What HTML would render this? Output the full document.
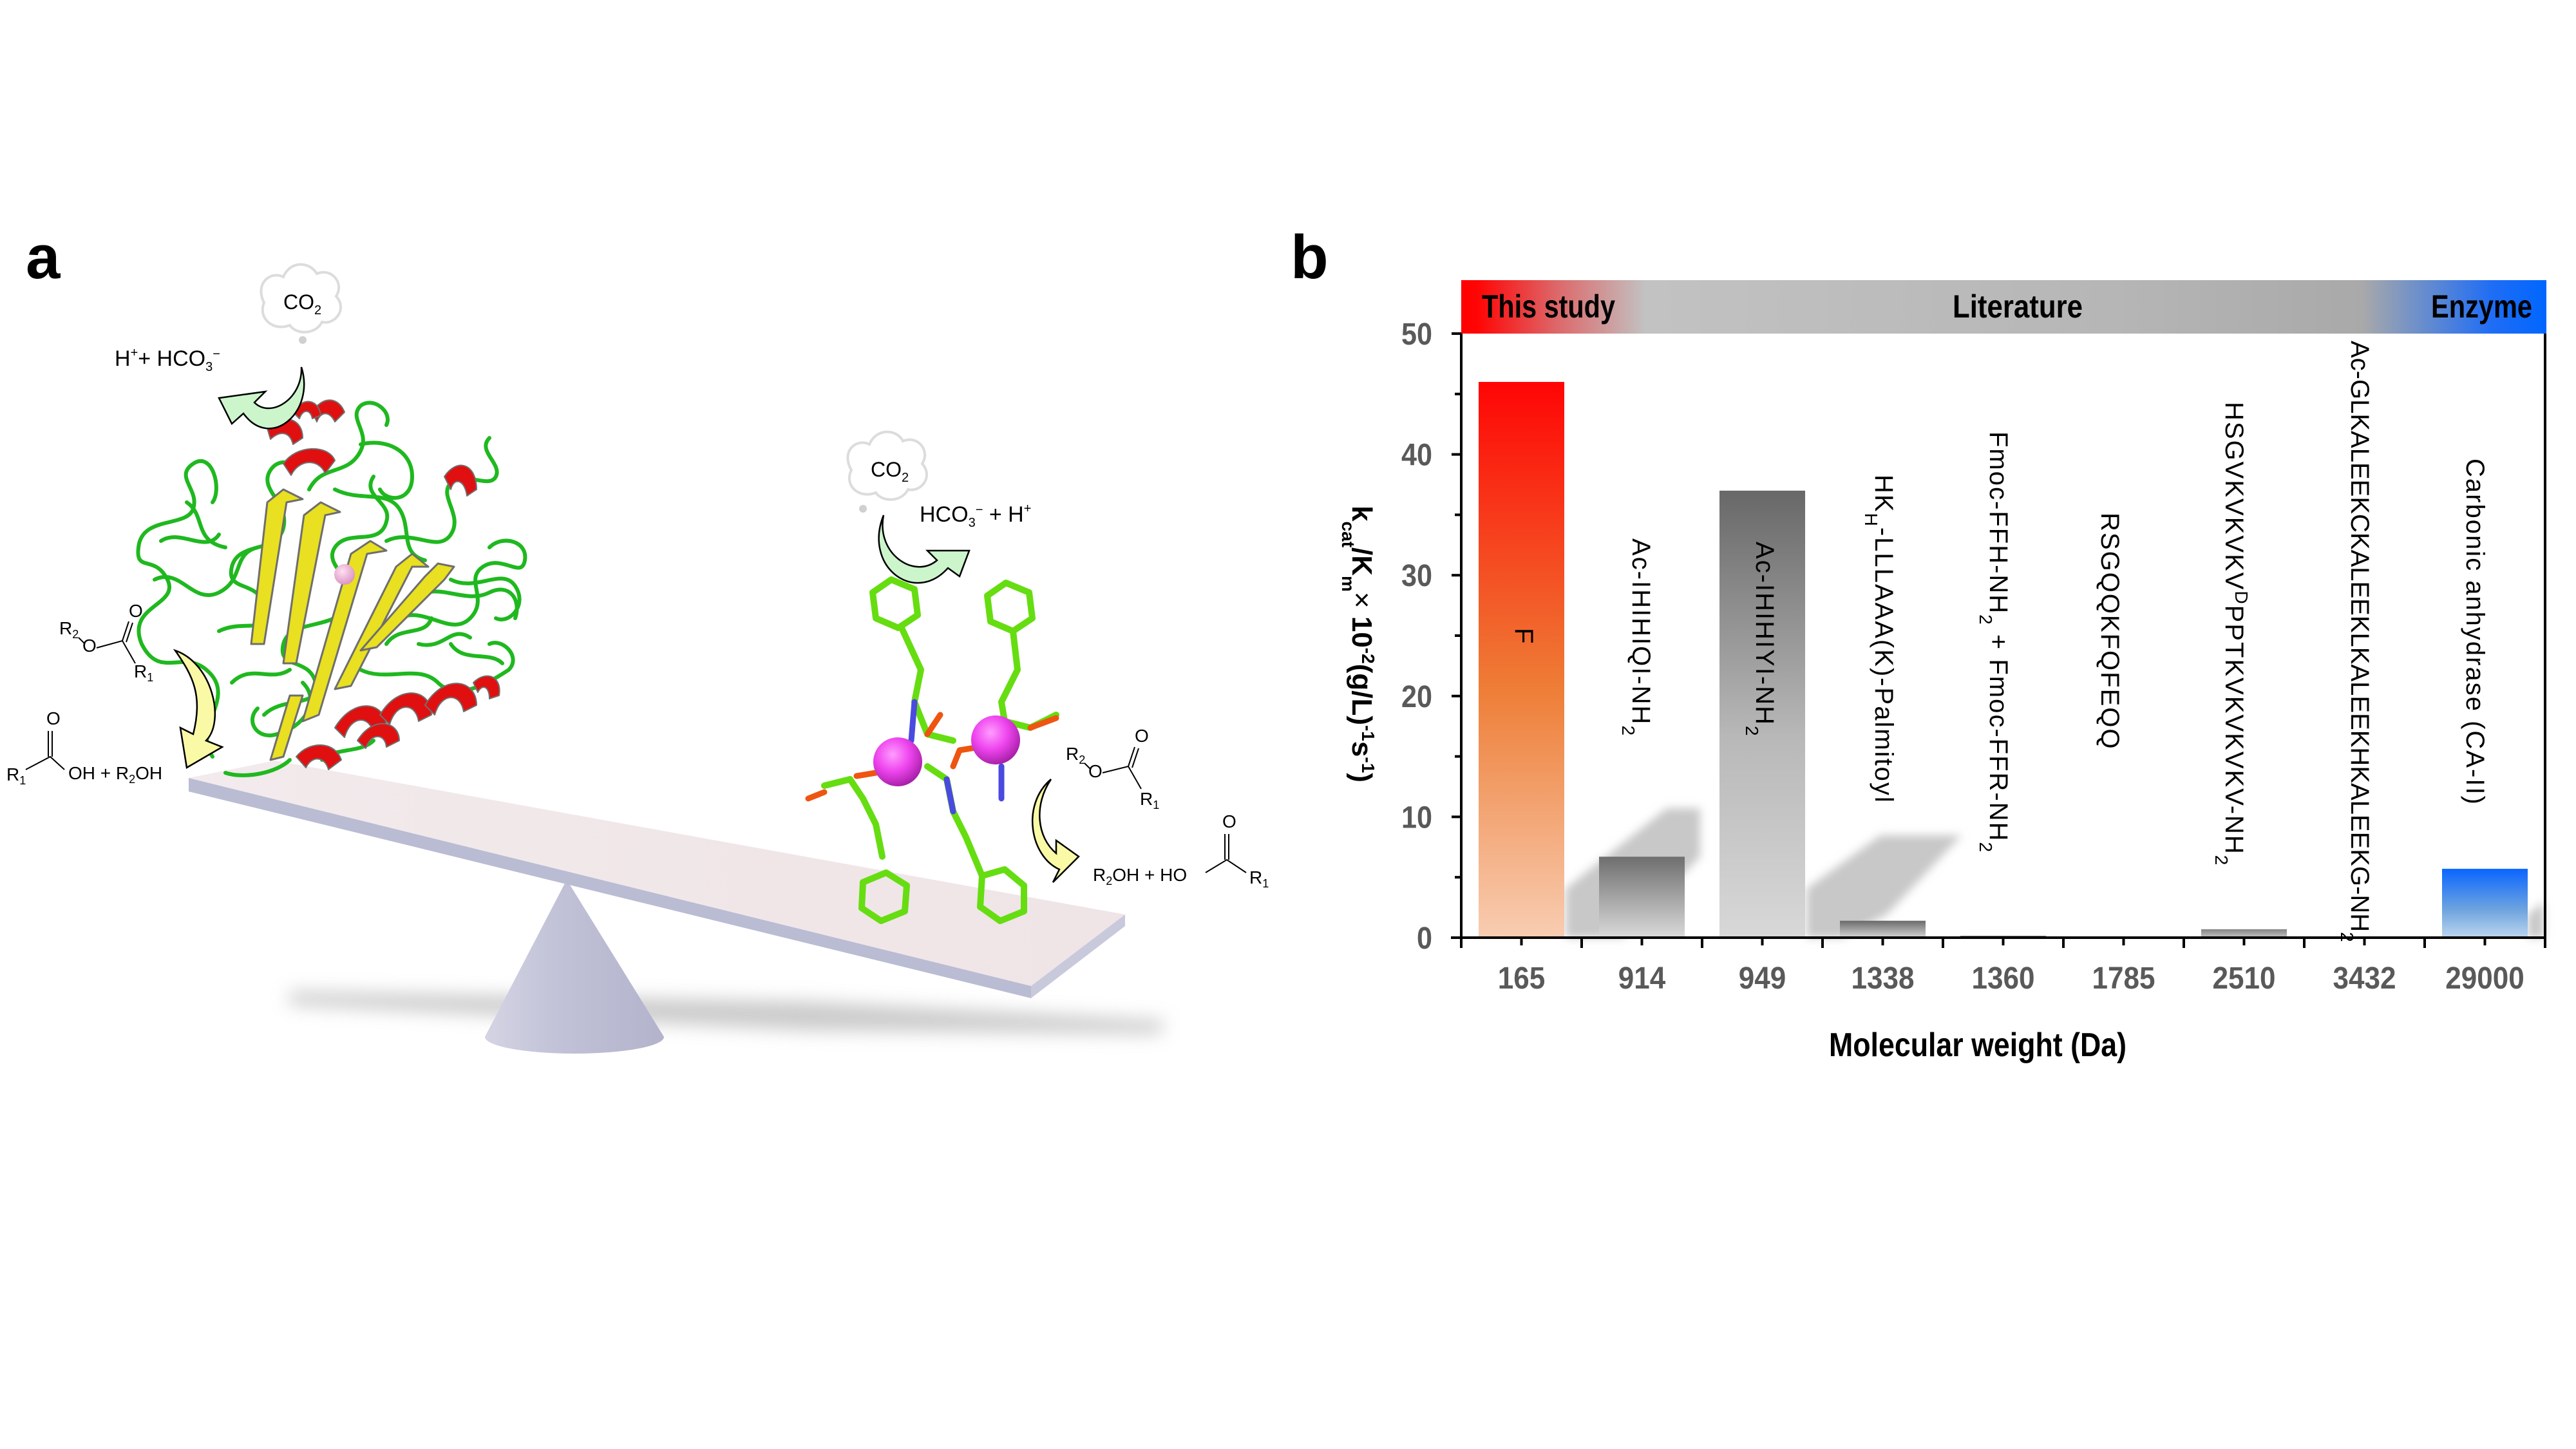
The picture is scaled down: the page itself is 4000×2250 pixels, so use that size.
<!DOCTYPE html>
<html><head><meta charset="utf-8"><style>
html,body{margin:0;padding:0;background:#fff;}
svg{display:block;}
</style></head><body>
<svg id="fig" width="4000" height="2250" viewBox="0 0 4000 2250" xmlns="http://www.w3.org/2000/svg">
<defs>
  <linearGradient id="gHeader" x1="0" y1="0" x2="1" y2="0">
    <stop offset="0" stop-color="#ff0000"/><stop offset="0.015" stop-color="#ff0505"/>
    <stop offset="0.09" stop-color="#dc6a6c"/><stop offset="0.17" stop-color="#c2c2c2"/>
    <stop offset="0.6" stop-color="#b6b6b6"/><stop offset="0.83" stop-color="#a9a9a9"/>
    <stop offset="0.95" stop-color="#1f6df5"/><stop offset="1" stop-color="#0066ff"/>
  </linearGradient>
  <linearGradient id="gF" x1="0" y1="0" x2="0" y2="1">
    <stop offset="0" stop-color="#ff0505"/><stop offset="0.55" stop-color="#ee7d36"/><stop offset="1" stop-color="#f8cdb2"/>
  </linearGradient>
  <linearGradient id="gG1" x1="0" y1="0" x2="0" y2="1"><stop offset="0" stop-color="#6e6e6e"/><stop offset="1" stop-color="#dadada"/></linearGradient>
  <linearGradient id="gG2" x1="0" y1="0" x2="0" y2="1"><stop offset="0" stop-color="#686868"/><stop offset="0.55" stop-color="#b8b8b8"/><stop offset="1" stop-color="#d8d8d8"/></linearGradient>
  <linearGradient id="gG3" x1="0" y1="0" x2="0" y2="1"><stop offset="0" stop-color="#6a6a6a"/><stop offset="1" stop-color="#d6d6d6"/></linearGradient>
  <linearGradient id="gG4" x1="0" y1="0" x2="0" y2="1"><stop offset="0" stop-color="#858585"/><stop offset="1" stop-color="#c4c4c4"/></linearGradient>
  <linearGradient id="gB" x1="0" y1="0" x2="0" y2="1"><stop offset="0" stop-color="#0a66ff"/><stop offset="0.6" stop-color="#6fa4df"/><stop offset="1" stop-color="#bcd6ef"/></linearGradient>
  <linearGradient id="gTop" x1="0" y1="0" x2="1" y2="0"><stop offset="0" stop-color="#f2eaec"/><stop offset="1" stop-color="#efe4e6"/></linearGradient>
  <linearGradient id="gCone" x1="0" y1="0" x2="1" y2="0"><stop offset="0" stop-color="#d4d4e4"/><stop offset="0.45" stop-color="#c0c0d6"/><stop offset="1" stop-color="#b3b3cc"/></linearGradient>
  <radialGradient id="gZn" cx="0.4" cy="0.35" r="0.7"><stop offset="0" stop-color="#ff9cff"/><stop offset="0.5" stop-color="#ee44ee"/><stop offset="1" stop-color="#a01ca0"/></radialGradient>
  <radialGradient id="gPink" cx="0.4" cy="0.35" r="0.7"><stop offset="0" stop-color="#ffe0f0"/><stop offset="1" stop-color="#d890c0"/></radialGradient>
  <filter id="blur" x="-20%" y="-50%" width="140%" height="200%"><feGaussianBlur stdDeviation="14"/></filter>
  <filter id="blur2" x="-20%" y="-50%" width="140%" height="200%"><feGaussianBlur stdDeviation="7"/></filter>
</defs>

<!-- ================= PANEL A ================= -->
<g id="panel-a">
  <text x="40" y="432" font-family="Liberation Sans, sans-serif" font-weight="bold" font-size="96" fill="#000">a</text>

  <g>
    <polygon points="450,1540 1250,1555 1810,1585 1800,1605 1250,1600 450,1560" fill="#bdbdbd" filter="url(#blur)" opacity="0.8"/>
  </g>
  <g>
    <path d="M880,1366 L1031,1610 A139,26 0 0 1 753,1610 Z" fill="url(#gCone)"/>
  </g>
  <g>
    <polygon points="293,1208 1601,1531 1601,1550 293,1229" fill="#b9bcd3"/>
    <polygon points="1601,1531 1747,1420 1747,1438 1601,1550" fill="#c9c9dc"/>
    <polygon points="427,1181 1747,1420 1601,1531 293,1208" fill="url(#gTop)"/>
  </g>

  <g stroke-linecap="round" stroke-linejoin="round">
    <g fill="none" stroke="#1fb81f" stroke-width="6">
      <path d="M330,1175 C300,1130 360,1090 330,1050 C290,1000 250,1060 220,1000 C195,940 280,940 260,900 C240,860 210,890 215,850 C220,800 290,820 300,790 C310,760 270,740 300,720 C330,700 345,760 330,780"/>
      <path d="M340,980 C380,960 420,990 410,940 C400,900 350,920 360,880 C370,840 430,860 440,820 C450,780 400,760 420,730 C440,700 470,740 480,700"/>
      <path d="M410,1110 C440,1080 500,1100 490,1060 C480,1020 430,1040 440,1000 C450,960 520,980 540,940 C560,900 500,880 520,850 C540,820 590,850 600,810 C610,780 560,770 580,740"/>
      <path d="M600,840 C640,820 680,860 700,830 C720,800 680,770 700,750 C720,730 760,760 770,740 C780,720 740,700 760,680"/>
      <path d="M620,960 C660,940 700,990 730,960 C760,930 720,900 750,880 C780,860 810,900 815,870 C820,840 780,830 760,850"/>
      <path d="M560,1040 C600,1060 650,1030 680,1060 C710,1090 760,1060 790,1040 C810,1020 780,990 760,1000"/>
      <path d="M350,1200 C380,1210 430,1200 450,1180 M470,1060 C500,1090 470,1130 430,1140 C400,1150 380,1120 400,1100"/>
      <path d="M480,760 C500,720 540,740 560,700 C575,670 540,650 560,630 C580,615 610,640 600,660"/>
      <path d="M560,690 C600,680 640,700 640,740 C640,780 600,780 590,760 M250,840 C280,820 320,860 340,830"/>
      <path d="M700,900 C740,920 780,880 800,910 C820,940 790,970 770,960 M650,1000 C690,1010 700,970 730,990"/>
      <path d="M240,900 C280,880 300,940 340,920 C380,900 360,860 400,850 M290,780 C320,800 300,840 350,850"/>
      <path d="M640,930 C680,900 720,940 760,920 C790,905 810,930 800,960 M600,1000 C620,970 660,990 670,960"/>
      <path d="M520,760 C560,780 600,760 620,790 C640,820 620,860 660,870 M360,1060 C390,1030 420,1060 450,1040"/>
      <path d="M500,1180 C520,1160 560,1170 580,1150 M700,1000 C720,1030 760,1010 780,1030"/>
    </g>
    <g stroke="#6e6e6e" stroke-width="3" fill="#e8e020">
      <polygon points="390,1000 410,1000 445,780 470,775 440,760 415,780"/>
      <polygon points="440,1030 460,1030 505,800 528,795 498,780 472,800"/>
      <polygon points="470,1120 495,1110 570,860 600,855 575,840 545,860"/>
      <polygon points="520,1070 545,1065 640,880 665,880 640,860 615,880"/>
      <polygon points="560,1010 585,1005 690,900 705,880 680,875 660,895"/>
      <polygon points="420,1180 440,1175 470,1080 450,1080"/>
    </g>
    <g fill="#e01010" stroke="#707070" stroke-width="2">
      <path d="M415,665 C440,640 470,650 470,680 L455,690 C450,670 435,668 420,682 Z"/>
      <path d="M440,720 C460,690 510,690 520,715 L505,735 C495,712 465,712 452,738 Z"/>
      <path d="M485,640 C500,615 525,615 535,640 L520,655 C512,638 498,638 492,655 Z"/>
      <path d="M690,740 C710,710 740,720 740,760 L725,770 C722,745 705,740 700,760 Z"/>
      <path d="M520,1130 C550,1080 600,1090 600,1130 L580,1140 C575,1110 545,1110 535,1145 Z"/>
      <path d="M590,1110 C620,1060 670,1070 670,1110 L650,1120 C645,1090 615,1090 605,1125 Z"/>
      <path d="M660,1095 C690,1045 740,1055 740,1095 L720,1105 C715,1075 685,1075 675,1110 Z"/>
      <path d="M460,1175 C480,1150 520,1150 530,1180 L510,1195 C505,1175 485,1172 475,1192 Z"/>
      <path d="M735,1060 C755,1040 780,1050 775,1080 L760,1085 C760,1065 748,1062 742,1075 Z"/>
      <path d="M555,1150 C580,1110 620,1120 620,1150 L600,1160 C598,1138 575,1138 568,1162 Z"/>
      <path d="M455,640 C470,615 495,620 498,645 L485,650 C482,635 470,635 465,650 Z"/>
    </g>
    <circle cx="535" cy="892" r="16" fill="url(#gPink)"/>
  </g>

  <g>
    <path d="M410,470 C395,440 420,420 440,430 C450,405 480,405 492,425 C515,415 535,440 522,460 C540,480 520,505 500,500 C490,520 460,520 450,505 C425,515 400,495 410,470 Z" fill="#fff" stroke="#dcdcdc" stroke-width="4"/>
    <circle cx="470" cy="528" r="6" fill="#d0d0d0"/>
    <text x="440" y="480" font-family="Liberation Sans Narrow, Liberation Sans, sans-serif" font-size="32" fill="#000">CO<tspan font-size="20" dy="8">2</tspan></text>
  </g>
  <text x="178" y="568" font-family="Liberation Sans Narrow, Liberation Sans, sans-serif" font-size="34" fill="#000">H<tspan font-size="20" dy="-14">+</tspan><tspan dy="14">+ HCO</tspan><tspan font-size="20" dy="8">3</tspan><tspan font-size="20" dy="-20">−</tspan></text>
  <path d="M468,570 C470,620 420,650 395,625 L412,608 L340,618 L360,658 L378,642 C420,700 490,640 468,570 Z" fill="#ccf5cc" stroke="#000" stroke-width="2.5"/>
  <g font-family="Liberation Sans, sans-serif" font-size="28" fill="#000">
    <text x="92" y="985">R<tspan font-size="18" dy="6">2</tspan></text>
    <text x="128" y="1012">O</text>
    <text x="200" y="958">O</text>
    <text x="208" y="1052">R<tspan font-size="18" dy="6">1</tspan></text>
    <path d="M122,990 L132,1000 M150,1006 L190,995 L210,1030 M190,995 L200,965 M196,997 L206,967" stroke="#000" stroke-width="2" fill="none"/>
  </g>
  <path d="M272,1010 C330,1030 350,1120 320,1150 L345,1160 L290,1192 L280,1130 L300,1140 C315,1080 300,1050 272,1010 Z" fill="#fafaa6" stroke="#000" stroke-width="2.5"/>
  <g font-family="Liberation Sans, sans-serif" font-size="28" fill="#000">
    <text x="72" y="1125">O</text>
    <text x="10" y="1212">R<tspan font-size="18" dy="6">1</tspan></text>
    <text x="106" y="1210">OH  +  R<tspan font-size="18" dy="6">2</tspan><tspan dy="-6">OH</tspan></text>
    <path d="M40,1195 L78,1175 L100,1195 M75,1135 L75,1175 M81,1135 L81,1175" stroke="#000" stroke-width="2" fill="none"/>
  </g>

  <g stroke-linecap="round" stroke-linejoin="round" fill="none">
    <g stroke="#66dd11" stroke-width="10">
      <polygon points="1384,900 1420,915 1425,955 1395,975 1360,960 1355,920"/>
      <polygon points="1562,905 1598,920 1603,960 1573,980 1538,965 1533,925"/>
      <polygon points="1340,1370 1376,1355 1408,1375 1405,1415 1368,1430 1338,1410"/>
      <polygon points="1525,1360 1560,1350 1590,1375 1590,1415 1553,1430 1522,1408"/>
      <path d="M1400,975 L1430,1040 L1420,1090 L1440,1140 L1480,1150 M1573,980 L1580,1040 L1555,1090 L1560,1120 L1600,1130 L1640,1110"/>
      <path d="M1370,1330 L1360,1280 L1340,1240 L1320,1210 L1280,1220 M1525,1360 L1500,1300 L1480,1260 L1470,1210 L1440,1190"/>
    </g>
    <g stroke="#ee5511" stroke-width="9">
      <path d="M1280,1230 L1255,1240 M1330,1205 L1360,1200 M1440,1140 L1460,1110 M1600,1130 L1640,1115 M1480,1190 L1490,1165 L1520,1160"/>
    </g>
    <g stroke="#4a4ae0" stroke-width="9">
      <path d="M1420,1090 L1415,1150 M1555,1190 L1555,1240 M1470,1210 L1480,1260"/>
    </g>
    <circle cx="1394" cy="1183" r="38" fill="url(#gZn)" stroke="none"/>
    <circle cx="1546" cy="1149" r="38" fill="url(#gZn)" stroke="none"/>
  </g>
  <g>
    <path d="M1322,730 C1305,700 1330,680 1350,690 C1360,665 1392,665 1402,685 C1425,675 1445,700 1432,720 C1450,740 1430,765 1410,760 C1400,780 1370,780 1360,765 C1335,775 1310,755 1322,730 Z" fill="#fff" stroke="#dcdcdc" stroke-width="4"/>
    <circle cx="1340" cy="790" r="6" fill="#d0d0d0"/>
    <text x="1352" y="740" font-family="Liberation Sans Narrow, Liberation Sans, sans-serif" font-size="32" fill="#000">CO<tspan font-size="20" dy="8">2</tspan></text>
  </g>
  <text x="1428" y="810" font-family="Liberation Sans Narrow, Liberation Sans, sans-serif" font-size="34" fill="#000">HCO<tspan font-size="20" dy="8">3</tspan><tspan font-size="20" dy="-20">−</tspan><tspan dy="12"> + H</tspan><tspan font-size="20" dy="-14">+</tspan></text>
  <path d="M1372,800 C1360,860 1420,900 1455,870 L1440,855 L1505,855 L1490,895 L1472,882 C1420,940 1340,880 1372,800 Z" fill="#ccf5cc" stroke="#000" stroke-width="2.5"/>
  <g font-family="Liberation Sans, sans-serif" font-size="28" fill="#000">
    <text x="1655" y="1180">R<tspan font-size="18" dy="6">2</tspan></text>
    <text x="1690" y="1207">O</text>
    <text x="1762" y="1152">O</text>
    <text x="1770" y="1250">R<tspan font-size="18" dy="6">1</tspan></text>
    <path d="M1684,1185 L1694,1195 M1712,1200 L1752,1190 L1772,1225 M1752,1190 L1762,1160 M1758,1192 L1768,1162" stroke="#000" stroke-width="2" fill="none"/>
  </g>
  <path d="M1632,1210 C1585,1250 1600,1330 1645,1350 L1635,1370 L1675,1330 L1640,1305 L1640,1325 C1610,1300 1605,1250 1632,1210 Z" fill="#fafaa6" stroke="#000" stroke-width="2.5"/>
  <g font-family="Liberation Sans, sans-serif" font-size="28" fill="#000">
    <text x="1697" y="1368">R<tspan font-size="18" dy="6">2</tspan><tspan dy="-6">OH   +   HO</tspan></text>
    <text x="1898" y="1285">O</text>
    <text x="1940" y="1372">R<tspan font-size="18" dy="6">1</tspan></text>
    <path d="M1872,1355 L1905,1335 L1935,1355 M1902,1295 L1902,1335 M1908,1295 L1908,1335" stroke="#000" stroke-width="2" fill="none"/>
  </g>
</g>

<!-- ================= PANEL B ================= -->
<text x="2004" y="432" font-family="Liberation Sans, sans-serif" font-weight="bold" font-size="96" fill="#000">b</text>
<g id="chart"></g>

<script>
const categories = ["165","914","949","1338","1360","1785","2510","3432","29000"];
const values = [46, 6.7, 37, 1.4, 0.15, 0, 0.7, 0, 5.7];
const yTicks = [0, 10, 20, 30, 40, 50];
const yMinorTicks = [5, 15, 25, 35, 45];
const barFills = ["url(#gF)","url(#gG1)","url(#gG2)","url(#gG3)","#555555","#555555","url(#gG4)","#555555","url(#gB)"];

const NS = "http://www.w3.org/2000/svg";
const X0 = 2269, X1 = 3952, Y0 = 1456, YTOP = 518, YMAX = 50;
const slot = (X1 - X0) / categories.length;
const barW = 133;
function xCenter(i){ return X0 + slot * (i + 0.5); }
function yScale(v){ return Y0 - (v / YMAX) * (Y0 - YTOP); }
function mk(tag, attrs, parent){ const e = document.createElementNS(NS, tag); for (const k in attrs) e.setAttribute(k, attrs[k]); parent.appendChild(e); return e; }
const chart = document.getElementById('chart');
const FONT = "'Liberation Sans Narrow', 'Liberation Sans', sans-serif";

const hdr = mk('g', {}, chart);


mk('rect', {x: X0, y: 435, width: X1 - X0 + 2, height: 83, fill: 'url(#gHeader)'}, hdr);
const hdrTexts = [["This study", 2301, 207, "header-this-study"], ["Literature", 3032, 202, "header-literature"], ["Enzyme", 3775, 157, "header-enzyme"]];
hdrTexts.forEach(h => {
  const t = mk('text', {x: h[1], y: 493, 'font-family': FONT, 'font-weight': 'bold', 'font-size': 50, fill: '#000', textLength: h[2], lengthAdjust: 'spacingAndGlyphs'}, hdr);
  t.textContent = h[0];
  
  
});

const sh = mk('g', {filter: 'url(#blur2)', fill: '#c8c8c8'}, chart);


mk('polygon', {points: [[2431,1380],[2588,1255],[2640,1255],[2640,1330],[2520,1456],[2431,1456]].map(p=>p.join(',')).join(' ')}, sh);
mk('polygon', {points: [[2805,1380],[2920,1297],[3046,1297],[2930,1420],[2860,1456],[2805,1456]].map(p=>p.join(',')).join(' ')}, sh);
mk('polygon', {points: [[3925,1420],[3950,1400],[3950,1456],[3925,1456]].map(p=>p.join(',')).join(' ')}, sh);

values.forEach((v, i) => {
  const y = yScale(v);
  const h = Math.max(Y0 - y, v > 0 ? 2 : 0);
  const r = mk('rect', {x: xCenter(i) - barW/2, y: Y0 - h, width: barW, height: h, fill: barFills[i]}, chart);
  
  
});

const ax = mk('g', {stroke: '#000', 'stroke-width': 4, fill: 'none'}, chart);


mk('line', {x1: X0, y1: YTOP, x2: X0, y2: Y0 + 2}, ax);
mk('line', {x1: X1, y1: YTOP, x2: X1, y2: Y0 + 2}, ax);
mk('line', {x1: X0 - 16, y1: Y0, x2: X1 + 2, y2: Y0}, ax);
yTicks.forEach(t => { mk('line', {x1: X0 - 15, y1: yScale(t), x2: X0, y2: yScale(t)}, ax); });
yMinorTicks.forEach(t => { mk('line', {x1: X0 - 10, y1: yScale(t), x2: X0, y2: yScale(t)}, ax); });
for (let i = 0; i <= categories.length; i++) { const x = X0 + slot * i; mk('line', {x1: x, y1: Y0, x2: x, y2: Y0 + 16}, ax); }
categories.forEach((c, i) => { mk('line', {x1: xCenter(i), y1: Y0, x2: xCenter(i), y2: Y0 + 12}, ax); });

yTicks.forEach(t => {
  const s = String(t);
  const e = mk('text', {x: 2224, y: yScale(t) + 17, 'text-anchor': 'end', 'font-family': FONT, 'font-weight': 'bold', 'font-size': 48, fill: '#595959', textLength: 24 * s.length, lengthAdjust: 'spacingAndGlyphs'}, chart);
  e.textContent = s;
  
  
});
categories.forEach((c, i) => {
  const e = mk('text', {x: xCenter(i), y: 1535, 'text-anchor': 'middle', 'font-family': FONT, 'font-weight': 'bold', 'font-size': 48, fill: '#595959', textLength: 24.5 * c.length, lengthAdjust: 'spacingAndGlyphs'}, chart);
  e.textContent = c;
  
  
});
const xt = mk('text', {x: 3071, y: 1640, 'text-anchor': 'middle', 'font-family': FONT, 'font-weight': 'bold', 'font-size': 52, fill: '#000', textLength: 462, lengthAdjust: 'spacingAndGlyphs'}, chart);
xt.textContent = 'Molecular weight (Da)';


</script>

<text transform="translate(2100,1000) rotate(90)" text-anchor="middle" font-family="Liberation Sans, sans-serif" font-weight="bold" font-size="44" fill="#000">k<tspan font-size="28" baseline-shift="sub">cat</tspan>/K<tspan font-size="28" baseline-shift="sub">m</tspan><tspan font-weight="normal">×</tspan> 10<tspan font-size="28" baseline-shift="super">-2</tspan>(g/L)<tspan font-size="28" baseline-shift="super">-1</tspan>s<tspan font-size="28" baseline-shift="super">-1</tspan>)</text>

<g font-family="Liberation Sans, sans-serif" font-size="40" fill="#000" letter-spacing="2">
  <text transform="translate(2353,975) rotate(90)">F</text>
  <text transform="translate(2535,836) rotate(90)">Ac-IHIHIQI-NH<tspan font-size="28" baseline-shift="sub">2</tspan></text>
  <text transform="translate(2727,841) rotate(90)">Ac-IHIHIYI-NH<tspan font-size="28" baseline-shift="sub">2</tspan></text>
  <text transform="translate(2912,737) rotate(90)">HK<tspan font-size="28" baseline-shift="sub">H</tspan>-LLLAAA(K)-Palmitoyl</text>
  <text transform="translate(3090,670) rotate(90)">Fmoc-FFH-NH<tspan font-size="28" baseline-shift="sub">2</tspan> + Fmoc-FFR-NH<tspan font-size="28" baseline-shift="sub">2</tspan></text>
  <text transform="translate(3263,796) rotate(90)">RSGQQKFQFEQQ</text>
  <text transform="translate(3456,624) rotate(90)">HSGVKVKVKV<tspan font-size="28" baseline-shift="super">D</tspan>PPTKVKVKVKV-NH<tspan font-size="28" baseline-shift="sub">2</tspan></text>
  <text transform="translate(3651,529) rotate(90)" letter-spacing="0">Ac-GLKALEEKCKALEEKLKALEEKHKALEEKG-NH<tspan font-size="28" baseline-shift="sub">2</tspan></text>
  <text transform="translate(3830,712) rotate(90)">Carbonic anhydrase (CA-II)</text>
</g>
</svg>
</body></html>
